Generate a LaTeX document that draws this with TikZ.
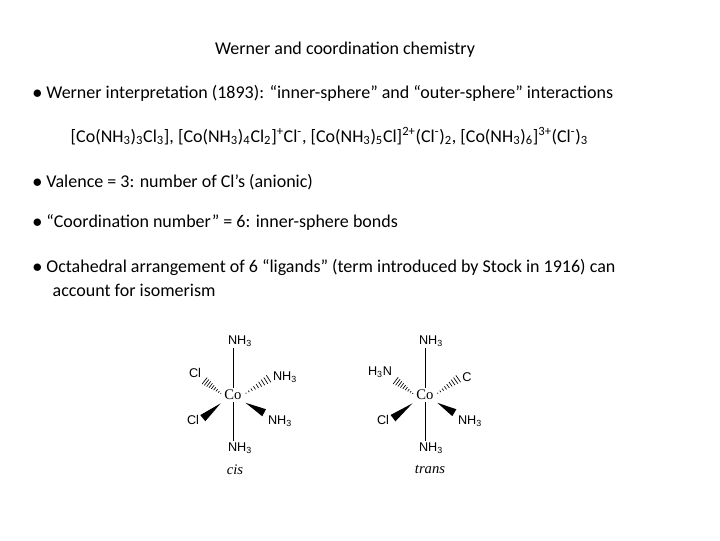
\documentclass[tikz,border=0pt]{standalone}
\usepackage{fontspec}
\setmainfont{Carlito}
\newfontfamily\ligfont{Liberation Sans}
\newfontfamily\cofont{Liberation Serif}
\usetikzlibrary{calc}

\tikzset{
    line/.style = {anchor = west, font = \fontsize{13.5}{16}\selectfont},
    lig/.style = {font = \ligfont\fontsize{9.5}{10}\selectfont, inner sep = 1pt},
    metal/.style = {font = \cofont\fontsize{11}{12}\selectfont, inner sep = 1pt},
    isomer/.style = {font = \cofont\itshape\fontsize{11}{12}\selectfont}
}

% solid wedge from a (narrow) to b (wide)
\newcommand{\solidwedge}[2]{
    \fill ($(#1)!0.1!(#2)$) -- ($(#1)!0.9!(#2)!3pt!90:(#2)$) -- ($(#1)!0.9!(#2)!3pt!-90:(#2)$) -- cycle;
}
% hashed wedge from a (narrow) to b (wide)
\newcommand{\hashwedge}[2]{
    \foreach \t in {0.1,0.2,...,0.91}{
        \pgfmathsetmacro{\w}{3.5*\t}
        \draw[line width = 0.5pt] ($(#1)!\t!(#2)!\w pt!90:(#2)$) -- ($(#1)!\t!(#2)!\w pt!-90:(#2)$);
    }
}

\begin{document}
\begin{tikzpicture}[x = 0.75pt, y = -0.75pt]
    \useasboundingbox (0,0) rectangle (720,540);

    \node[font = \fontsize{13.5}{16}\selectfont] (title) at (345,50) {Werner and coordination chemistry};
    \node[line] (b1) at (28,93) {$\bullet$ Werner interpretation (1893): “inner-sphere” and “outer-sphere” interactions};
    \node[line] (cmp) at (66,136) {[Co(NH\textsubscript{3})\textsubscript{3}Cl\textsubscript{3}], [Co(NH\textsubscript{3})\textsubscript{4}Cl\textsubscript{2}]\textsuperscript{+}Cl\textsuperscript{-}, [Co(NH\textsubscript{3})\textsubscript{5}Cl]\textsuperscript{2+}(Cl\textsuperscript{-})\textsubscript{2}, [Co(NH\textsubscript{3})\textsubscript{6}]\textsuperscript{3+}(Cl\textsuperscript{-})\textsubscript{3}};
    \node[line] (b2) at (28,182) {$\bullet$ Valence = 3: number of Cl’s (anionic)};
    \node[line] (b3) at (28,222) {$\bullet$ “Coordination number” = 6: inner-sphere bonds};
    \node[line, align = left] (b4) at (28,278) {$\bullet$ Octahedral arrangement of 6 “ligands” (term introduced by Stock in 1916) can\\[2pt]\hspace*{15pt}account for isomerism};

    % cis
    \node[metal] (co1) at (233,395) {Co};
    \node[lig] (n1t) at (240,341) {NH\textsubscript{3}};
    \node[lig] (n1b) at (240,448) {NH\textsubscript{3}};
    \node[lig] (cl1a) at (195,373) {Cl};
    \node[lig] (n1r) at (285,377) {NH\textsubscript{3}};
    \node[lig] (cl1b) at (193,420) {Cl};
    \node[lig] (n1s) at (280,421) {NH\textsubscript{3}};
    \node[isomer] (cis) at (235,470) {cis};
    \draw (co1 |- n1t.south) -- (co1 |- co1.north);
    \draw (co1 |- n1b.north) -- (co1 |- co1.south);
    \hashwedge{co1.west}{cl1a.south east}
    \hashwedge{co1.east}{n1r.west}
    \solidwedge{co1.south west}{cl1b.east}
    \solidwedge{co1.south east}{n1s.north west}

    % trans
    \node[metal] (co2) at (425,395) {Co};
    \node[lig] (n2t) at (431,341) {NH\textsubscript{3}};
    \node[lig] (n2b) at (431,448) {NH\textsubscript{3}};
    \node[lig] (n2l) at (380,372) {H\textsubscript{3}N};
    \node[lig] (c2r) at (467,377) {C};
    \node[lig] (cl2) at (383,420) {Cl};
    \node[lig] (n2s) at (470,421) {NH\textsubscript{3}};
    \node[isomer] (trans) at (430,469) {trans};
    \draw (co2 |- n2t.south) -- (co2 |- co2.north);
    \draw (co2 |- n2b.north) -- (co2 |- co2.south);
    \hashwedge{co2.west}{n2l.south east}
    \hashwedge{co2.east}{c2r.west}
    \solidwedge{co2.south west}{cl2.east}
    \solidwedge{co2.south east}{n2s.north west}
\end{tikzpicture}
\end{document}
